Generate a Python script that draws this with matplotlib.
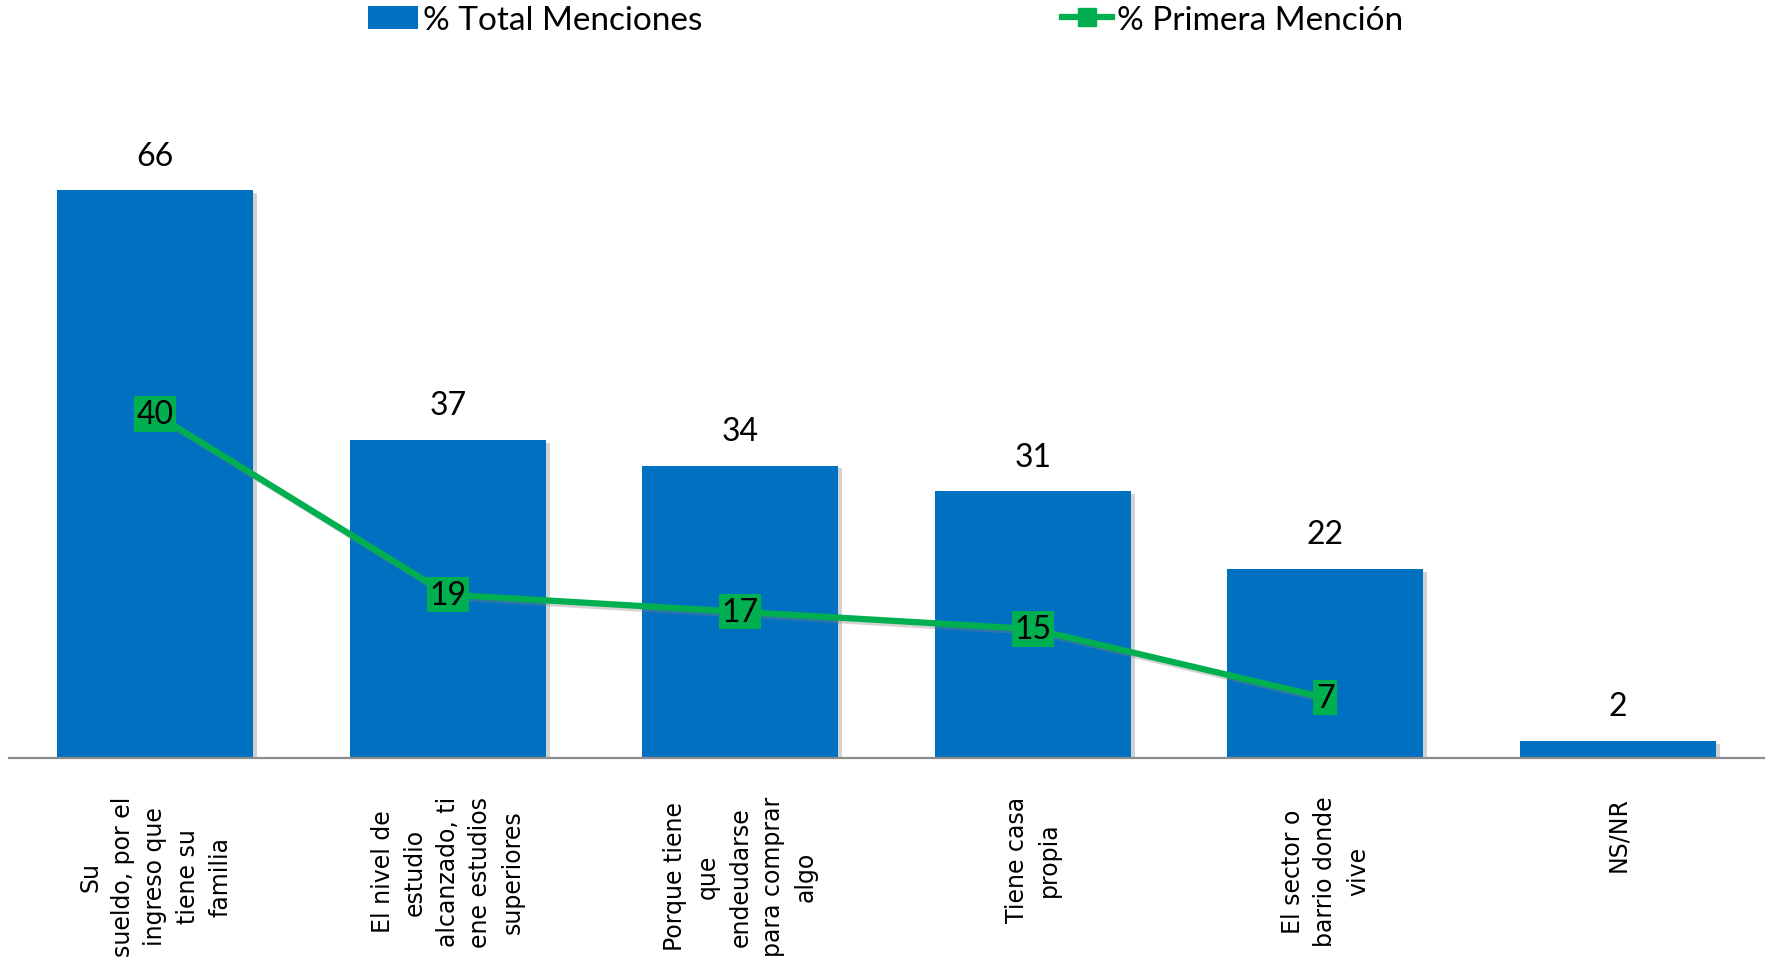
import matplotlib
matplotlib.use("Agg")
import matplotlib.pyplot as plt
import matplotlib.patheffects as pe
from matplotlib.lines import Line2D
from matplotlib.patches import Patch
import numpy as np

categories = [
    "Su\nsueldo, por el\ningreso que\ntiene su\nfamilia",
    "El nivel de\nestudio\nalcanzado, ti\nene estudios\nsuperiores",
    "Porque tiene\nque\nendeudarse\npara comprar\nalgo",
    "Tiene casa\npropia",
    "El sector o\nbarrio donde\nvive",
    "NS/NR",
]
total_menciones = [66, 37, 34, 31, 22, 2]
primera_mencion = [40, 19, 17, 15, 7]

BLUE = "#0070C0"
GREEN = "#00B050"
NUM_FONT = ["Lato", "DejaVu Sans"]

fig = plt.figure(figsize=(17.71, 9.70), dpi=100)
ax = fig.add_axes([0.0051, 0.2175, 0.991, 0.6206])

x = np.arange(len(categories))
bars = ax.bar(x, total_menciones, width=0.67, color=BLUE, zorder=2)
for b in bars:
    b.set_path_effects([pe.SimplePatchShadow(offset=(3, -2), shadow_rgbFace="#7f7f7f", alpha=0.35),
                        pe.Normal()])

for xi, v in zip(x, total_menciones):
    ax.annotate(str(v), (xi, v), xytext=(0, 14), textcoords="offset points",
                ha="center", va="bottom", fontsize=23, family=NUM_FONT)

xl = x[:len(primera_mencion)]
ax.plot(xl, primera_mencion, color=GREEN, lw=4.5, zorder=3,
        path_effects=[pe.SimpleLineShadow(offset=(2, -2), shadow_color="#7f7f7f", alpha=0.35),
                      pe.Normal()])
for xi, v in zip(xl, primera_mencion):
    ax.text(xi, v, str(v), ha="center", va="center", fontsize=23, family=NUM_FONT,
            zorder=4, bbox=dict(boxstyle="square,pad=0.08", fc=GREEN, ec="none"))

ax.set_xlim(-0.5, len(categories) - 0.5)
ax.set_ylim(0, 70)
ax.set_xticks(x)
ax.set_xticklabels(categories, rotation=90, ha="center", va="top",
                   multialignment="center", fontsize=17, linespacing=1.45,
                   family="DejaVu Sans")
ax.tick_params(axis="x", length=0, pad=27)
ax.set_yticks([])
for s in ["left", "right", "top"]:
    ax.spines[s].set_visible(False)
ax.spines["bottom"].set_color("#8C8C8C")
ax.spines["bottom"].set_linewidth(1.6)

handles = [
    Patch(facecolor=BLUE, edgecolor="none"),
    Line2D([], [], color=GREEN, lw=4.5, marker="s", markersize=13),
]
fig.legend(handles, ["% Total Menciones", "% Primera Mención"], ncol=2,
           loc="center", bbox_to_anchor=(0.5, 1 - 21 / 970), frameon=False,
           prop={"family": NUM_FONT, "size": 24}, handlelength=1.5,
           handletextpad=0.15, columnspacing=10.8)

fig.savefig("out.png", dpi=100)
